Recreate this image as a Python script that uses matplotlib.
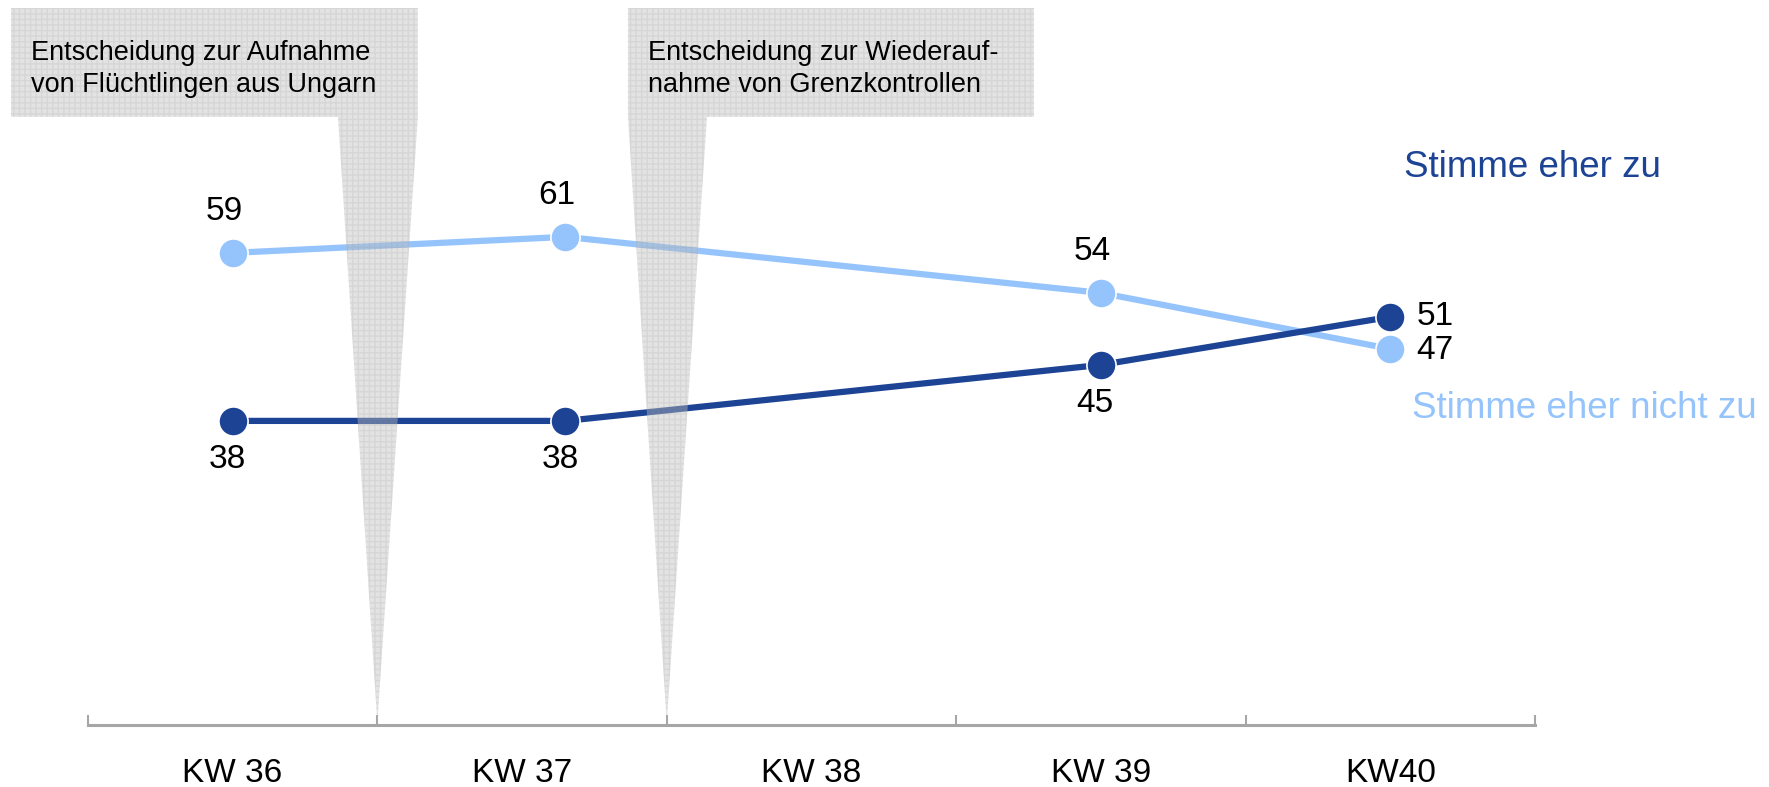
import numpy as np
import matplotlib.pyplot as plt
from matplotlib.patches import Polygon

plt.rcParams['font.family'] = ['Liberation Sans', 'DejaVu Sans']

# Daten
wochen = ['KW 36', 'KW 37', 'KW 38', 'KW 39', 'KW40']
x_pos = [0.0, 1.15, 3.0, 4.0]          # Befragungszeitpunkte (KW 38 fehlt)
zu = [38, 38, 45, 51]                 # Stimme eher zu
nicht_zu = [59, 61, 54, 47]           # Stimme eher nicht zu

ereignisse = ['Entscheidung zur Aufnahme\nvon Flüchtlingen aus Ungarn',
              'Entscheidung zur Wiederauf-\nnahme von Grenzkontrollen']
ereignis_x = [0.5, 1.5]               # zwischen den Wochen

dunkel = '#1d4394'
hell = '#95c4fc'

fig = plt.figure(figsize=(17.69, 7.87), dpi=100)
ax = fig.add_axes([0.0497, 0.0788, 0.818, 0.9212])
ax.set_xlim(-0.5, 4.5)
ax.set_ylim(0, 90.6)

ax.plot(x_pos, nicht_zu, color=hell, lw=4.5, marker='o', ms=21,
        mec='white', mew=1.2, zorder=3)
ax.plot(x_pos, zu, color=dunkel, lw=4.5, marker='o', ms=21,
        mec='white', mew=1.2, zorder=4)

# Werte beschriften
fs = 24
for i, (x, a, b) in enumerate(zip(x_pos, zu, nicht_zu)):
    if i == len(x_pos) - 1:
        ax.annotate(str(a), (x, a), xytext=(19, 0), textcoords='offset points',
                    ha='left', va='center', fontsize=fs)
        ax.annotate(str(b), (x, b), xytext=(19, -1), textcoords='offset points',
                    ha='left', va='center', fontsize=fs)
    else:
        ax.annotate(str(b), (x, b), xytext=(-6, 30), textcoords='offset points',
                    ha='center', va='center', fontsize=fs)
        ax.annotate(str(a), (x, a), xytext=(-4, -28), textcoords='offset points',
                    ha='center', va='center', fontsize=fs)

ax.text(4.047, 69.7, 'Stimme eher zu', color=dunkel, fontsize=26.5,
        ha='left', va='center', clip_on=False)
ax.text(4.075, 39.5, 'Stimme eher nicht zu', color=hell, fontsize=26.5,
        ha='left', va='center', clip_on=False)

# Ereignis-Kaesten mit Spitze
kaesten = [(-0.766, 0.640, 0.364, 0.640), (1.366, 2.769, 1.366, 1.639)]
oben, unten = 89.6, 76.0
for (l, r, wl, wr), tip, txt in zip(kaesten, ereignis_x, ereignisse):
    pts = [(l, oben), (r, oben), (r, unten), (wr, unten), (tip, 0.3),
           (wl, unten), (l, unten)]
    poly = Polygon(pts, closed=True, facecolor=(0.74, 0.74, 0.74, 0.42),
                   edgecolor=(0.55, 0.55, 0.55, 0.15), lw=0, hatch='+++',
                   zorder=5, clip_on=False)
    ax.add_patch(poly)
    ax.text(l + 0.07, 82.0, txt, fontsize=19.5, ha='left', va='center',
            linespacing=1.3, zorder=6, clip_on=False)

# Achse
for s in ['top', 'right', 'left']:
    ax.spines[s].set_visible(False)
ax.spines['bottom'].set_color('#a6a6a6')
ax.spines['bottom'].set_linewidth(2.2)
ax.set_yticks([])
ax.set_xticks(np.arange(-0.5, 5.0, 1.0))
ax.set_xticklabels([])
ax.tick_params(axis='x', which='major', direction='in', length=7,
               width=1.5, color='#a6a6a6')
ax.set_xticks(np.arange(5), minor=True)
ax.set_xticklabels(wochen, minor=True, fontsize=24)
ax.tick_params(axis='x', which='minor', length=0, pad=24)

fig.savefig('out.png', dpi=100)
